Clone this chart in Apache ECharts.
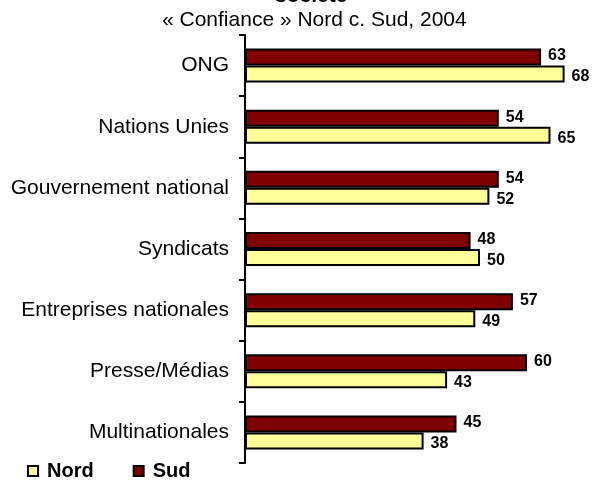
<!DOCTYPE html>
<html>
<head>
<meta charset="utf-8">
<script src="https://cdn.jsdelivr.net/npm/echarts@6/dist/echarts.min.js"></script>
<style>
html,body{margin:0;padding:0;background:#fff;}
#chart{width:595px;height:481px;}
</style>
</head>
<body>
<div id="chart"></div>
<script>
const categories = ['ONG', 'Nations Unies', 'Gouvernement national', 'Syndicats', 'Entreprises nationales', 'Presse/Médias', 'Multinationales'];
const sudValues = [63, 54, 54, 48, 57, 60, 45];
const nordValues = [68, 65, 52, 50, 49, 43, 38];
const titleText = 'société';
const subtitleText = '« Confiance » Nord c. Sud, 2004';

const FONT = '"Liberation Sans", Arial, sans-serif';
const chart = echarts.init(document.getElementById('chart'), null, {renderer: 'canvas'});
chart.setOption({
  backgroundColor: '#fff',
  animation: false,
  textStyle: {fontFamily: FONT},
  graphic: [
    {type: 'text', left: 275, top: -14, style: {text: titleText, font: 'bold 21px ' + FONT, fill: '#000'}},
    {type: 'text', left: 162, top: 10, style: {text: subtitleText, font: '21px ' + FONT, fill: '#000'}}
  ],
  legend: {
    data: ['Nord', 'Sud'],
    left: 22, top: 456,
    icon: 'rect', itemWidth: 10, itemHeight: 10, itemGap: 39,
    textStyle: {fontSize: 20, fontWeight: 'bold', color: '#000', fontFamily: FONT, padding: [0, 0, 0, 4]}
  },
  grid: {left: 245, top: 35, bottom: 18, right: 21, containLabel: false},
  xAxis: {type: 'value', min: 0, max: 70, show: false},
  yAxis: {
    type: 'category', inverse: true, data: categories,
    axisLine: {show: true, lineStyle: {color: '#000', width: 2}},
    axisTick: {show: true, length: 6, lineStyle: {color: '#000', width: 2}},
    axisLabel: {fontSize: 21, color: '#000', margin: 16, fontFamily: FONT}
  },
  series: [
    {name: 'Sud', type: 'bar', data: sudValues, barWidth: 17, barGap: '0%',
     itemStyle: {color: '#800000', borderColor: '#000', borderWidth: 2},
     label: {show: true, position: 'right', distance: 7, offset: [0, -1], fontSize: 16, fontWeight: 'bold', color: '#000', fontFamily: FONT}},
    {name: 'Nord', type: 'bar', data: nordValues, barWidth: 17, barGap: '0%',
     itemStyle: {color: '#FFFF99', borderColor: '#000', borderWidth: 2},
     label: {show: true, position: 'right', distance: 7, offset: [0, 3], fontSize: 16, fontWeight: 'bold', color: '#000', fontFamily: FONT}}
  ]
});
</script>
</body>
</html>
